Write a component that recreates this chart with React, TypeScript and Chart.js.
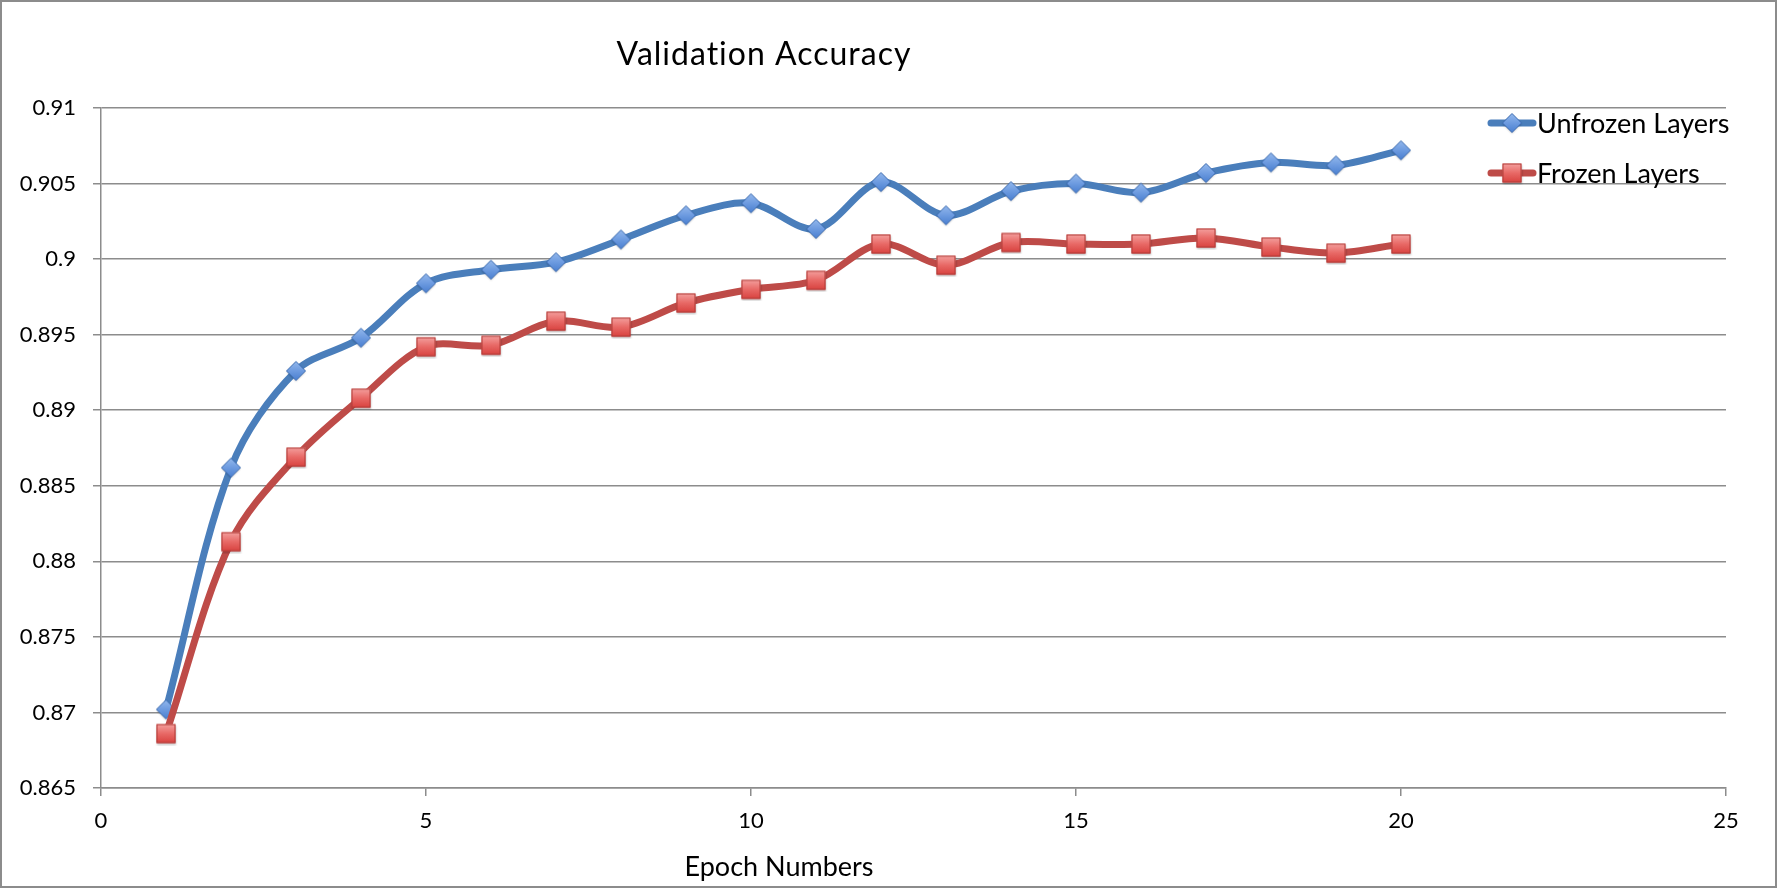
import React, { useEffect, useRef } from "react";
import { Chart, registerables } from "chart.js";

Chart.register(...registerables);

const epochs = [1, 2, 3, 4, 5, 6, 7, 8, 9, 10, 11, 12, 13, 14, 15, 16, 17, 18, 19, 20];
const unfrozenLayers = [
  0.8702, 0.8862, 0.8926, 0.8948, 0.8984, 0.8993, 0.8998, 0.9013, 0.9029, 0.9037,
  0.902, 0.9051, 0.9029, 0.9045, 0.905, 0.9044, 0.9057, 0.9064, 0.9062, 0.9072,
];
const frozenLayers = [
  0.8686, 0.8813, 0.8869, 0.8908, 0.8942, 0.8943, 0.8959, 0.8955, 0.8971, 0.898,
  0.8986, 0.901, 0.8996, 0.9011, 0.901, 0.901, 0.9014, 0.9008, 0.9004, 0.901,
];
const yTickValues = [0.865, 0.87, 0.875, 0.88, 0.885, 0.89, 0.895, 0.9, 0.905, 0.91];
const xTickValues = [0, 5, 10, 15, 20, 25];
const seriesNames = ["Unfrozen Layers", "Frozen Layers"];

const FONT = "Lato, 'Noto Sans', sans-serif";
const GRID = "#8c8c8c";
const BLUE_LINE = "#4A7EBB";
const RED_LINE = "#BE4B48";

function makeDiamond(): HTMLCanvasElement {
  const c = document.createElement("canvas");
  const s = 24;
  c.width = s;
  c.height = s;
  const g = c.getContext("2d")!;
  const cx = s / 2, cy = s / 2, r = 9.5;
  g.shadowColor = "rgba(0,0,0,0.25)";
  g.shadowBlur = 2;
  g.shadowOffsetY = 1;
  const grad = g.createLinearGradient(0, cy - r, 0, cy + r);
  grad.addColorStop(0, "#93b8ec");
  grad.addColorStop(0.5, "#6d9be0");
  grad.addColorStop(1, "#4a7fd0");
  g.beginPath();
  g.moveTo(cx, cy - r);
  g.lineTo(cx + r, cy);
  g.lineTo(cx, cy + r);
  g.lineTo(cx - r, cy);
  g.closePath();
  g.fillStyle = grad;
  g.fill();
  g.shadowColor = "transparent";
  g.lineWidth = 1;
  g.strokeStyle = "#3d6db3";
  g.stroke();
  return c;
}

function makeSquare(): HTMLCanvasElement {
  const c = document.createElement("canvas");
  const s = 24;
  c.width = s;
  c.height = s;
  const g = c.getContext("2d")!;
  const half = 9.5;
  const cx = s / 2, cy = s / 2;
  g.shadowColor = "rgba(0,0,0,0.25)";
  g.shadowBlur = 2;
  g.shadowOffsetY = 1;
  const grad = g.createLinearGradient(0, cy - half, 0, cy + half);
  grad.addColorStop(0, "#f4a09e");
  grad.addColorStop(0.5, "#e86966");
  grad.addColorStop(1, "#d8423f");
  g.fillStyle = grad;
  g.fillRect(cx - half, cy - half, half * 2, half * 2);
  g.shadowColor = "transparent";
  g.lineWidth = 1;
  g.strokeStyle = "#b23c39";
  g.strokeRect(cx - half + 0.5, cy - half + 0.5, half * 2 - 1, half * 2 - 1);
  return c;
}

export default function App() {
  const ref = useRef<HTMLCanvasElement | null>(null);

  useEffect(() => {
    document.body.style.margin = "0";
    const canvas = ref.current;
    if (!canvas) return;
    const diamond = makeDiamond();
    const square = makeSquare();

    const decor = {
      id: "decor",
      beforeDraw(chart: any) {
        const ctx = chart.ctx;
        ctx.save();
        ctx.fillStyle = "#ffffff";
        ctx.fillRect(0, 0, chart.width, chart.height);
        ctx.restore();
      },
      afterDraw(chart: any) {
        const ctx = chart.ctx;
        ctx.save();
        // title
        ctx.fillStyle = "#000";
        ctx.textAlign = "center";
        ctx.textBaseline = "middle";
        ctx.font = `32px ${FONT}`;
        (ctx as any).letterSpacing = "1px";
        ctx.fillText("Validation Accuracy", 764, 55);
        (ctx as any).letterSpacing = "0px";
        // x axis title
        ctx.font = `27px ${FONT}`;
        ctx.fillText("Epoch Numbers", 779, 867);
        // legend
        const items = [
          { name: seriesNames[0], color: BLUE_LINE, img: diamond, y: 123 },
          { name: seriesNames[1], color: RED_LINE, img: square, y: 173 },
        ];
        ctx.textAlign = "left";
        ctx.font = `27px ${FONT}`;
        for (const it of items) {
          ctx.strokeStyle = it.color;
          ctx.lineWidth = 7;
          ctx.lineCap = "round";
          ctx.beginPath();
          ctx.moveTo(1491, it.y);
          ctx.lineTo(1533, it.y);
          ctx.stroke();
          ctx.drawImage(it.img, 1512 - 12, it.y - 12);
          ctx.fillStyle = "#000";
          ctx.fillText(it.name, 1537, it.y + 1);
        }
        // outer border
        ctx.strokeStyle = GRID;
        ctx.lineWidth = 2;
        ctx.strokeRect(1, 1, chart.width - 2, chart.height - 2);
        ctx.restore();
      },
    };

    const chart = new Chart(canvas, {
      type: "line",
      data: {
        datasets: [
          {
            label: seriesNames[0],
            data: epochs.map((e, i) => ({ x: e, y: unfrozenLayers[i] })),
            borderColor: BLUE_LINE,
            backgroundColor: BLUE_LINE,
            borderWidth: 7,
            tension: 0.33,
            pointStyle: diamond as any,
            pointRadius: 10,
            pointHoverRadius: 10,
            borderCapStyle: "round",
            borderJoinStyle: "round",
            order: 1,
          },
          {
            label: seriesNames[1],
            data: epochs.map((e, i) => ({ x: e, y: frozenLayers[i] })),
            borderColor: RED_LINE,
            backgroundColor: RED_LINE,
            borderWidth: 7,
            tension: 0.33,
            pointStyle: square as any,
            pointRadius: 10,
            pointHoverRadius: 10,
            borderCapStyle: "round",
            borderJoinStyle: "round",
            order: 0,
          },
        ],
      },
      options: {
        responsive: false,
        animation: false,
        devicePixelRatio: 1,
        layout: { padding: { left: 0, top: 108, right: 51, bottom: 0 } },
        plugins: {
          legend: { display: false },
          title: { display: false },
          tooltip: { enabled: false },
        },
        scales: {
          x: {
            type: "linear",
            min: 0,
            max: 25,
            afterFit(scale: any) {
              scale.height = 100;
            },
            afterBuildTicks(scale: any) {
              scale.ticks = xTickValues.map((v) => ({ value: v }));
            },
            ticks: {
              color: "#000",
              font: { family: FONT, size: 22 },
              padding: 12,
              maxRotation: 0,
              callback: (v: any) => String(v),
            },
            grid: {
              display: true,
              drawOnChartArea: false,
              drawTicks: true,
              tickLength: 8,
              color: GRID,
              lineWidth: 1.5,
            },
            border: { display: true, color: GRID, width: 1.5 },
          },
          y: {
            type: "linear",
            min: 0.865,
            max: 0.91,
            afterFit(scale: any) {
              scale.width = 101;
            },
            afterBuildTicks(scale: any) {
              scale.ticks = yTickValues.map((v) => ({ value: v }));
            },
            ticks: {
              color: "#000",
              font: { family: FONT, size: 22 },
              padding: 17,
              callback: (v: any) => String(Number(Number(v).toFixed(3))),
            },
            grid: {
              display: true,
              drawTicks: true,
              tickLength: 8,
              color: GRID,
              lineWidth: 1.5,
            },
            border: { display: true, color: GRID, width: 1.5 },
          },
        },
      },
      plugins: [decor],
    });

    return () => chart.destroy();
  }, []);

  return (
    <div style={{ width: 1777, height: 888, position: "relative" }}>
      <canvas ref={ref} width={1777} height={888} style={{ display: "block" }} />
    </div>
  );
}
